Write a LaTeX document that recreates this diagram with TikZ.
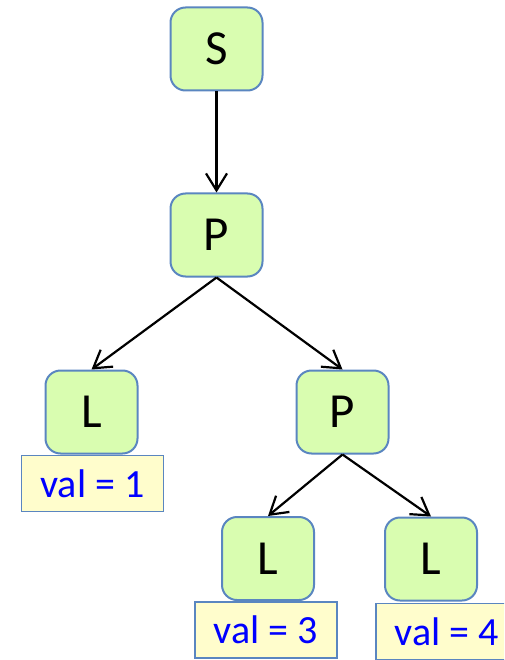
\documentclass[tikz,border=0pt]{standalone}
\usepackage{fontspec}
\setmainfont{Carlito}
\usetikzlibrary{arrows.meta}
\definecolor{nodefill}{HTML}{D9FDB0}
\definecolor{nodeedge}{HTML}{5A86C0}
\definecolor{valfill}{HTML}{FFFDCC}
\definecolor{valtext}{HTML}{0000FF}
\tikzset{
  treenode/.style={draw=nodeedge, fill=nodefill, line width=2pt, rounded corners=15pt,
    minimum width=92pt, minimum height=83pt, inner sep=0pt,
    font=\fontsize{49}{55}\selectfont},
  valbox/.style={draw=nodeedge, fill=valfill, line width=1.8pt,
    minimum width=142pt, minimum height=56pt, inner sep=0pt, text=valtext,
    font=\fontsize{40}{46}\selectfont},
  edge/.style={draw=black, line width=2.2pt, -{Straight Barb[length=17pt,width=21pt]}}
}
\begin{document}
\begin{tikzpicture}[x=1pt,y=-1pt]
\useasboundingbox (0,0) rectangle (504,660);
\clip (0,0) rectangle (504,660);
\node[treenode] (S) at (216.5,49) {S};
\node[treenode] (P1) at (216.5,235) {P};
\node[treenode] (L1) at (91.5,412) {L};
\node[valbox] (V1) at (92.5,483.5) {val = 1};
\node[treenode] (P2) at (342.5,412) {P};
\node[treenode] (L3) at (268,558.5) {L};
\node[valbox] (V3) at (266,630) {val = 3};
\node[treenode] (L4) at (431,559) {L};
\node[valbox] (V4) at (447,631.5) {val = 4};
\draw[edge] (S) -- (P1);
\draw[edge] (P1.south) -- (L1.north);
\draw[edge] (P1.south) -- (P2.north);
\draw[edge] (P2.south) -- (L3.north);
\draw[edge] (P2.south) -- (L4.north);
\end{tikzpicture}
\end{document}
